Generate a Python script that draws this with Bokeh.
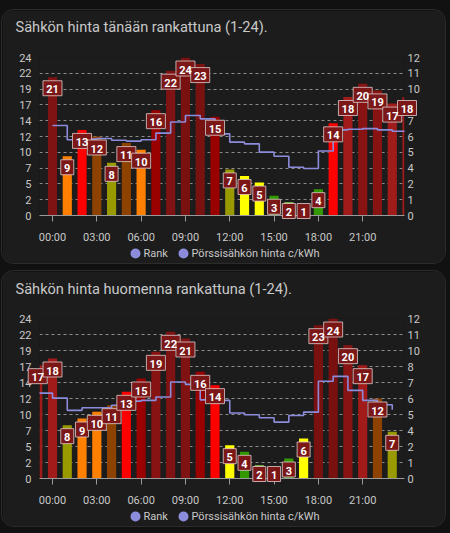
from math import pi
from bokeh.plotting import figure
from bokeh.models import (ColumnDataSource, Range1d, LinearAxis, FixedTicker,
                          Spacer, GlobalInlineStyleSheet)
from bokeh.layouts import column, row
from bokeh.core.properties import value
from bokeh.embed import file_html
from bokeh.resources import INLINE

# ---------------- data ----------------
titles = ["Sähkön hinta tänään rankattuna (1-24).",
          "Sähkön hinta huomenna rankattuna (1-24)."]
series_names = ["Rank", "Pörssisähkön hinta c/kWh"]

hours_today = list(range(0, 25))
rank_today = [21, 9, 13, 12, 8, 11, 10, 16, 22, 24, 23, 15, 7, 6, 5, 3, 2, 1, 4, 14, 18, 20, 19, 17, 18]
price_today = [6.84, 5.75, 5.80, 5.85, 5.72, 5.65, 5.75, 6.26, 7.10, 7.60, 7.34, 6.20, 5.57,
               5.44, 4.81, 4.50, 3.67, 3.57, 4.90, 6.50, 6.55, 6.60, 6.50, 6.40, 6.03]

hours_tomorrow = list(range(-1, 24))
rank_tomorrow = [17, 18, 8, 9, 10, 11, 13, 15, 19, 22, 21, 16, 14, 5, 4, 2, 1, 3, 6, 23, 24, 20, 17, 12, 7]
price_tomorrow = [6.40, 6.03, 5.11, 5.31, 5.31, 5.49, 5.80, 5.86, 6.11, 7.24, 7.06, 5.90, 5.86,
                  4.91, 4.78, 4.56, 4.23, 4.73, 4.98, 7.29, 7.66, 6.61, 5.86, 5.53, 5.16]

x_tick_hours = [0, 3, 6, 9, 12, 15, 18, 21]
x_tick_labels = ["00:00", "03:00", "06:00", "09:00", "12:00", "15:00", "18:00", "21:00"]
rank_tick_labels = ["0", "2", "5", "7", "10", "12", "14", "17", "19", "22", "24"]
price_tick_labels = ["0", "1", "2", "4", "5", "6", "7", "8", "10", "11", "12"]
rank_max = 24
price_max = 12

# colour per pair of ranks (1-2, 3-4, ..., 23-24)
rank_colors = ["#8edb4f", "#339900", "#ffff00", "#999900", "#ff8000", "#8e4200",
               "#ff0000", "#990000", "#a11b1b", "#871313", "#7f1313", "#7a1111"]

CARD_BG = "#1c1c1c"
TEXT = "#c8c8c8"
LINE = "#8c8cdc"

# card geometry (pixels inside a card)
CARD_W = 443
FR_LEFT = 37
FR_RIGHT = 41
FR_TOP = 47
X_START, X_END = -0.88, 23.83


def card(title, hours, ranks, prices, frame_h, height, title_py, legend_py):
    frame_w = CARD_W - FR_LEFT - FR_RIGHT
    px_per_rank = frame_h / rank_max
    off = 11 / px_per_rank
    floor = 4.5 / px_per_rank

    def px_x(cx):
        return X_START + (cx - FR_LEFT) * (X_END - X_START) / frame_w

    def px_y(cy):
        return rank_max - (cy - FR_TOP) / px_per_rank

    src = ColumnDataSource(dict(
        hour=hours, rank=ranks, price=prices,
        color=[rank_colors[(r - 1) // 2] for r in ranks],
        label=[str(r) for r in ranks],
        label_y=[max(r - off, floor) for r in ranks],
        box_w=[13 if r < 10 else 19 for r in ranks],
    ))
    p = figure(width=CARD_W, height=height,
               x_range=Range1d(X_START, X_END), y_range=Range1d(0, rank_max),
               output_backend="svg", toolbar_location=None,
               min_border_left=FR_LEFT, min_border_right=FR_RIGHT, min_border_top=FR_TOP,
               min_border_bottom=height - FR_TOP - frame_h,
               background_fill_color=CARD_BG, border_fill_color=CARD_BG,
               outline_line_color=None)
    p.styles = {"border-radius": "12px", "overflow": "hidden",
                "box-shadow": "0 0 0 1px #2b2b2b"}
    p.extra_y_ranges = {"price": Range1d(0, price_max)}

    rank_ticks = [round(i * rank_max / 10, 2) for i in range(11)]
    price_ticks = [round(i * price_max / 10, 2) for i in range(11)]

    # left axis
    yax = p.yaxis[0]
    yax.ticker = FixedTicker(ticks=rank_ticks)
    yax.major_label_overrides = {t: l for t, l in zip(rank_ticks, rank_tick_labels)}
    yax.axis_line_color = None
    yax.major_tick_line_color = None
    yax.minor_tick_line_color = None
    yax.major_tick_out = 0
    yax.major_tick_in = 0
    yax.major_label_standoff = 8
    yax.major_label_text_color = TEXT
    yax.major_label_text_font = "Roboto"
    yax.major_label_text_font_size = "11px"

    # right axis
    rax = LinearAxis(y_range_name="price", ticker=FixedTicker(ticks=price_ticks),
                     major_label_overrides={t: l for t, l in zip(price_ticks, price_tick_labels)},
                     axis_line_color=None, major_tick_line_color=None, minor_tick_line_color=None,
                     major_tick_out=0, major_tick_in=0, major_label_standoff=3,
                     major_label_text_color=TEXT, major_label_text_font="Roboto",
                     major_label_text_font_size="11px")
    p.add_layout(rax, "right")

    # x axis
    xax = p.xaxis[0]
    xax.ticker = FixedTicker(ticks=x_tick_hours)
    xax.major_label_overrides = {h: l for h, l in zip(x_tick_hours, x_tick_labels)}
    xax.axis_line_color = "#9a9a9a"
    xax.major_tick_line_color = "#9a9a9a"
    xax.minor_tick_line_color = None
    xax.major_tick_out = 6
    xax.major_tick_in = 0
    xax.major_label_standoff = 9
    xax.major_label_text_color = TEXT
    xax.major_label_text_font = "Roboto"
    xax.major_label_text_font_size = "11px"

    p.xgrid.visible = False
    p.ygrid.ticker = FixedTicker(ticks=rank_ticks)
    p.ygrid.grid_line_color = "#8c8c8c"
    p.ygrid.grid_line_dash = "3 3"
    p.ygrid.grid_line_width = 1

    # bars
    p.vbar(x="hour", top="rank", width=0.62, source=src, fill_color="color", line_color=None)
    # price step line
    p.step(x="hour", y="price", source=src, mode="after", y_range_name="price",
           line_color=LINE, line_width=1.6)
    # data labels
    p.rect(x="hour", y="label_y", width="box_w", height=15, width_units="screen",
           height_units="screen", source=src, fill_color="#7b1717",
           line_color="#d9c2c2", line_alpha=0.85, line_width=1, level="annotation")
    p.text(x="hour", y="label_y", text="label", source=src, text_align="center",
           text_baseline="middle", text_color="white", text_font=value("Roboto"),
           text_font_style="bold", text_font_size="11px", y_offset=1, level="annotation")

    # title (card header)
    p.text(x=[px_x(13)], y=[px_y(title_py)], text=[title], text_align="left",
           text_baseline="middle", text_color=TEXT, text_font=value("Roboto"),
           text_font_size="14.6px", level="overlay")

    # legend
    lx_dot = [px_x(133), px_x(181)]
    lx_txt = [px_x(141), px_x(189)]
    ly = [px_y(legend_py)] * 2
    p.wedge(x=lx_dot, y=ly, radius=5, radius_units="screen", start_angle=0,
            end_angle=2 * pi, fill_color=LINE, line_color=None, level="overlay")
    p.text(x=lx_txt, y=ly, text=series_names, text_align="left", text_baseline="middle",
           text_color=TEXT, text_font=value("Roboto"), text_font_size="11px",
           level="overlay")
    return p


p1 = card(titles[0], hours_today, rank_today, price_today, 158, 253, 16, 243)
p2 = card(titles[1], hours_tomorrow, rank_tomorrow, price_tomorrow, 160, 255, 17.5, 245)

page = row(Spacer(width=2, height=10),
           column(Spacer(width=CARD_W, height=10), p1, Spacer(width=CARD_W, height=8), p2),
           stylesheets=[GlobalInlineStyleSheet(
               css="html, body { background-color: #111111; overflow: hidden; }")])

open("out.html", "w").write(file_html(page, INLINE))
